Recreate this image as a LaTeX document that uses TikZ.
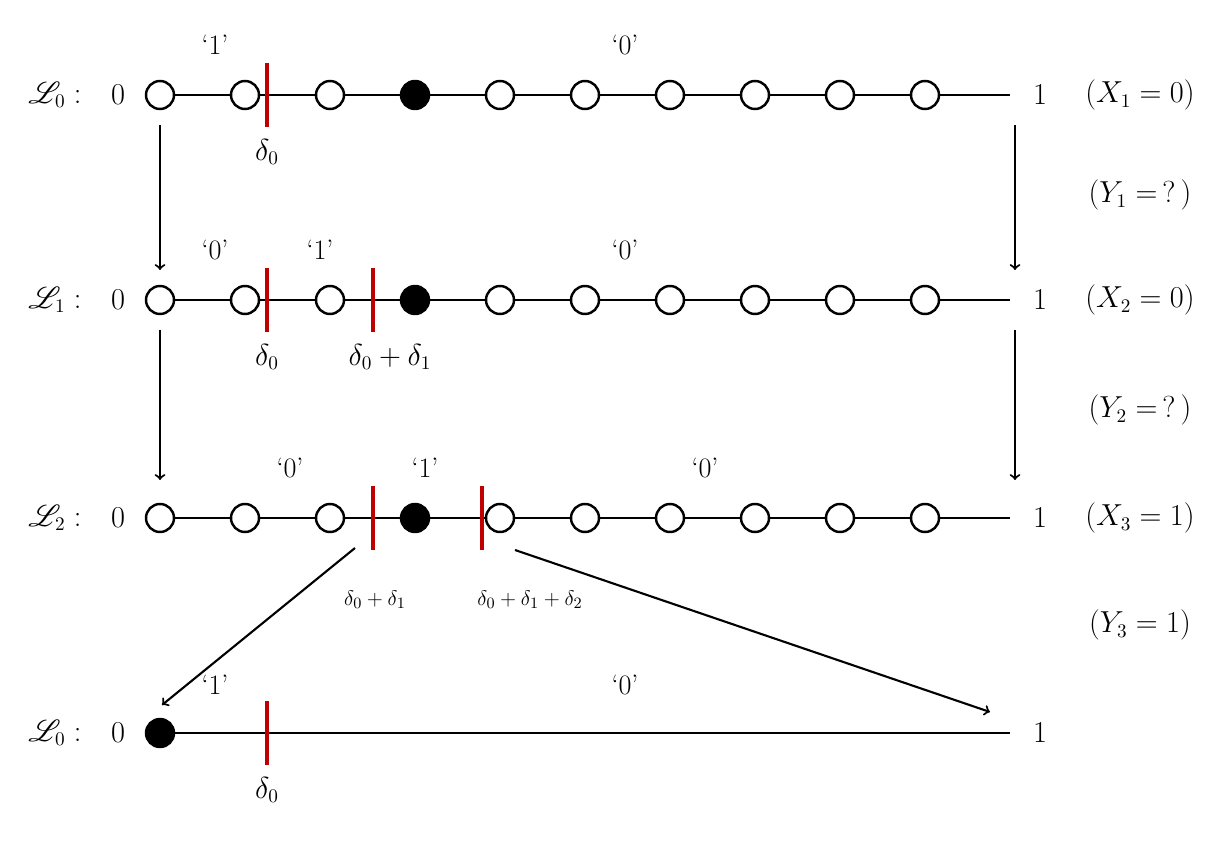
\documentclass[tikz,border=0pt]{standalone}
\usepackage{amsmath}
\usepackage{mathrsfs}
\usepackage{tikz}
\usetikzlibrary{arrows}
\tikzstyle{arrow} = [line width=1.2pt,->,>=to]
\tikzstyle{dot} = [circle, draw=black, line width=1.4pt, fill=white, minimum size=0.56cm, inner sep=0pt]
\tikzstyle{full} = [dot, fill=black]
\tikzstyle{cut} = [draw=red!75!black, line width=2pt]
\tikzstyle{txt} = [font=\fontsize{16}{19}\selectfont]

\begin{document}
\begin{tikzpicture}[x=0.02cm, y=-0.02cm, every node/.style={txt}]
    \useasboundingbox (0,0) rectangle (1230,844);

    % three rows with circles
    \foreach \r/\y/\f in {0/95/0, 1/300/1, 2/518/2} {
        \coordinate (s\r) at (160,\y);
        \coordinate (e\r) at (1010,\y);
        \draw [line width=1.6pt] (s\r) -- (e\r);
        \foreach \i in {0,...,9} {
            \ifnum\i=3
                \node (c\r\i) [full] at (160+85*\i,\y) {};
            \else
                \node (c\r\i) [dot] at (160+85*\i,\y) {};
            \fi
        }
        \node (n\r) at (118,\y) {$0$};
        \node (o\r) at (1040,\y) {$1$};
        \node (L\r) at (55,\y) {$\mathscr{L}_{\f}:$};
    }
    \coordinate (s3) at (160,733);
    \coordinate (e3) at (1010,733);
    \draw [line width=1.6pt] (s3) -- (e3);
    \node (c30) [full] at (160,733) {};
    \node (n3) at (118,733) {$0$};
    \node (o3) at (1040,733) {$1$};
    \node (L3) at (55,733) {$\mathscr{L}_{0}:$};

    % cuts
    \foreach \x/\y in {267/95, 267/300, 373/300, 373/518, 482/518, 267/733}
        \draw [cut] (\x,\y-32) -- (\x,\y+32);

    % bits
    \node (b01) at (215,45) {`1'};
    \node (b02) at (625,45) {`0'};
    \node (b11) at (215,250) {`0'};
    \node (b12) at (320,250) {`1'};
    \node (b13) at (625,250) {`0'};
    \node (b21) at (290,468) {`0'};
    \node (b22) at (425,468) {`1'};
    \node (b23) at (705,468) {`0'};
    \node (b31) at (215,685) {`1'};
    \node (b32) at (625,685) {`0'};

    % deltas
    \node (d01) at (267,152) {$\delta_0$};
    \node (d11) at (267,357) {$\delta_0$};
    \node (d12) at (390,357) {$\delta_0+\delta_1$};
    \node (d21) [font=\fontsize{13}{15}\selectfont] at (375,600) {$\delta_0+\delta_1$};
    \node (d22) [font=\fontsize{13}{15}\selectfont] at (530,600) {$\delta_0+\delta_1+\delta_2$};
    \node (d31) at (267,790) {$\delta_0$};

    % right labels
    \node (x1) at (1140,95) {$(X_1=0)$};
    \node (y1) at (1140,195) {$(Y_1=\,?\,)$};
    \node (x2) at (1140,300) {$(X_2=0)$};
    \node (y2) at (1140,410) {$(Y_2=\,?\,)$};
    \node (x3) at (1140,518) {$(X_3=1)$};
    \node (y3) at (1140,625) {$(Y_3=1)$};

    % arrows
    \coordinate (a0) at (160,125); \coordinate (a1) at (160,270);
    \coordinate (a2) at (160,330); \coordinate (a3) at (160,480);
    \coordinate (r0) at (1015,125); \coordinate (r1) at (1015,270);
    \coordinate (r2) at (1015,330); \coordinate (r3) at (1015,480);
    \coordinate (p0) at (355,548); \coordinate (p1) at (162,705);
    \coordinate (q0) at (515,550); \coordinate (q1) at (990,712);
    \draw [arrow] (a0) -- (a1);
    \draw [arrow] (a2) -- (a3);
    \draw [arrow] (r0) -- (r1);
    \draw [arrow] (r2) -- (r3);
    \draw [arrow] (p0) -- (p1);
    \draw [arrow] (q0) -- (q1);

\end{tikzpicture}
\end{document}
